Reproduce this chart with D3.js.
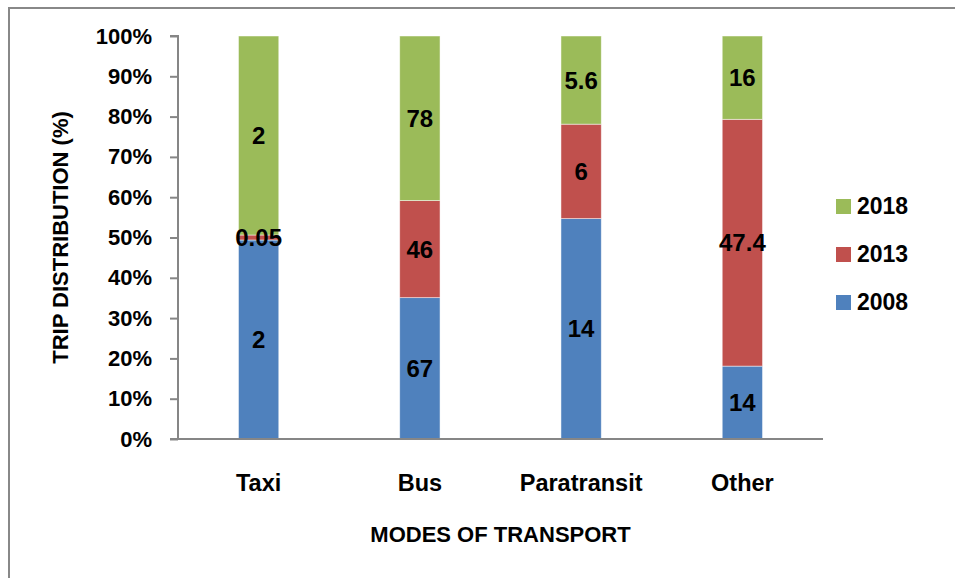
<!DOCTYPE html>
<html>
<head>
<meta charset="utf-8">
<script src="https://cdn.jsdelivr.net/npm/d3@7"></script>
<style>
  body { margin: 0; background: #fff; }
  text { font-family: "Liberation Sans", Arial, sans-serif; font-weight: bold; fill: #000; }
</style>
</head>
<body>
<script>
// data
var modes = ['Taxi', 'Bus', 'Paratransit', 'Other']
var years = ['2008', '2013', '2018']
var v2008 = [2, 67, 14, 14]
var v2013 = [0.05, 46, 6, 47.4]
var v2018 = [2, 78, 5.6, 16]
var labels2008 = ['2', '67', '14', '14']
var labels2013 = ['0.05', '46', '6', '47.4']
var labels2018 = ['2', '78', '5.6', '16']
var yTicks = [0, 0.1, 0.2, 0.3, 0.4, 0.5, 0.6, 0.7, 0.8, 0.9, 1]
var colors = { '2008': '#4F81BD', '2013': '#C0504D', '2018': '#9BBB59' }

var W = 955, H = 578
var margin = { top: 36, left: 178, right: W - 823, bottom: H - 439 }
var w = W - margin.left - margin.right
var h = H - margin.top - margin.bottom

var svg = d3.select('body').append('svg')
	.attr('width', W)
	.attr('height', H)

// chart frame (only left and top edges show)
svg.append('path')
	.attr('d', 'M9,' + H + 'V8H' + W)
	.attr('fill', 'none')
	.attr('stroke', '#888')
	.attr('stroke-width', 2)

var g = svg.append('g')
	.attr('transform', 'translate(' + margin.left + ',' + margin.top + ')')

// build rows for the stack
var rows = modes.map(function (m, i) {
	var tot = v2008[i] + v2013[i] + v2018[i]
	return {
		mode: m,
		'2008': v2008[i] / tot, '2013': v2013[i] / tot, '2018': v2018[i] / tot,
		lab: { '2008': labels2008[i], '2013': labels2013[i], '2018': labels2018[i] }
	}
})
var series = d3.stack().keys(years)(rows)

var xScale = d3.scaleBand()
	.domain(modes)
	.range([0, w])
	.paddingInner(0.75)
	.paddingOuter(0.375)
var yScale = d3.scaleLinear()
	.domain([0, 1])
	.range([h, 0])

// bars
var layer = g.selectAll('g.layer')
	.data(series)
	.enter().append('g')
	.attr('class', 'layer')
	.attr('fill', function (d) { return colors[d.key] })

layer.selectAll('rect')
	.data(function (d) { return d })
	.enter().append('rect')
	.attr('x', function (d) { return xScale(d.data.mode) })
	.attr('width', xScale.bandwidth())
	.attr('y', function (d) { return yScale(d[1]) })
	.attr('height', function (d) { return yScale(d[0]) - yScale(d[1]) })
	.attr('stroke', 'rgba(255,255,255,0.6)')
	.attr('stroke-width', 0.8)

// data labels, drawn after all bars so none get covered
var labelData = []
series.forEach(function (s) {
	s.forEach(function (d) { labelData.push({ key: s.key, d: d }) })
})
g.append('g').selectAll('text')
	.data(labelData)
	.enter().append('text')
	.attr('x', function (o) { return xScale(o.d.data.mode) + xScale.bandwidth() / 2 })
	.attr('y', function (o) { return (yScale(o.d[0]) + yScale(o.d[1])) / 2 })
	.attr('dy', '0.36em')
	.attr('text-anchor', 'middle')
	.style('font-size', '24px')
	.text(function (o) { return o.d.data.lab[o.key] })

// Y-axis
var yAxis = d3.axisLeft(yScale)
	.tickValues(yTicks)
	.tickFormat(d3.format('.0%'))
	.tickSize(8)
	.tickPadding(18)
var ya = g.append('g').call(yAxis)
ya.select('.domain').attr('stroke', '#868686').attr('stroke-width', 2).attr('d', 'M-8,0H0V' + h + 'H-8')
ya.selectAll('.tick line').attr('stroke', '#868686').attr('stroke-width', 2)
ya.selectAll('.tick text').style('font-size', '22px').style('font-family', null)

// X-axis
var xAxis = d3.axisBottom(xScale).tickSize(0).tickPadding(35)
var xa = g.append('g')
	.attr('transform', 'translate(0,' + h + ')')
	.call(xAxis)
xa.select('.domain').attr('stroke', '#868686').attr('stroke-width', 2).attr('d', 'M0,0H' + w)
xa.selectAll('.tick text').style('font-size', '23.5px').style('font-family', null)

// axis titles
svg.append('text')
	.attr('x', margin.left + w / 2)
	.attr('y', 542)
	.attr('text-anchor', 'middle')
	.style('font-size', '22px')
	.text('MODES OF TRANSPORT')

svg.append('text')
	.attr('transform', 'translate(68,' + (margin.top + h / 2) + ') rotate(-90)')
	.attr('text-anchor', 'middle')
	.style('font-size', '22px')
	.text('TRIP DISTRIBUTION (%)')

// legend
var legend = svg.append('g')
	.selectAll('g')
	.data(years.slice().reverse())
	.enter().append('g')
	.attr('transform', function (d, i) { return 'translate(836,' + (206 + i * 48) + ')' })
legend.append('rect')
	.attr('y', -7)
	.attr('width', 15)
	.attr('height', 15)
	.attr('fill', function (d) { return colors[d] })
legend.append('text')
	.attr('x', 21)
	.attr('dy', '0.36em')
	.style('font-size', '23px')
	.text(function (d) { return d })
</script>
</body>
</html>
